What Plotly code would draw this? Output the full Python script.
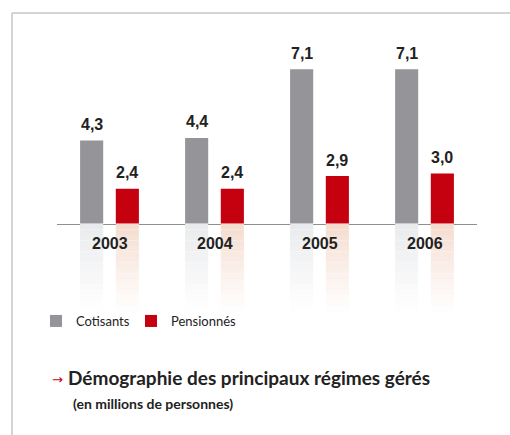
import plotly.graph_objects as go

# ---- data ----
years = ["2003", "2004", "2005", "2006"]
cotisants = [4.3, 4.4, 7.1, 7.1]
pensionnes = [2.4, 2.4, 2.9, 3.0]
series_names = ["Cotisants", "Pensionnés"]
title_text = "Démographie des principaux régimes gérés"
subtitle_text = "(en millions de personnes)"

# ---- layout helpers (window pixel -> paper) ----
W, H = 510, 435
def px(x):
    return x / W
def py(y):
    return 1 - y / H

GRAY = "#959599"
RED = "#c5000f"
GRAY_REFL = (232, 233, 235)
RED_REFL = (244, 218, 204)
TEXT = "#222222"
BOLD_FONT = "Liberation Sans"
NARROW = "Lato"

BAR_W = 0.22
OFF_C = -0.28
OFF_P = 0.06
Y_FLOOR = 1.03          # visual floor of the value axis in the original
Y_TOP = 8.65
N_REFL = 16

xpos = list(range(len(years)))

def fmt(v):
    return f"{v:.1f}".replace(".", ",")

def mix(c, t):
    r, g, b = (round(ci + (255 - ci) * t) for ci in c)
    return f"rgb({r},{g},{b})"

fig = go.Figure()
fig.add_bar(x=xpos, y=cotisants, name=series_names[0], marker_color=GRAY,
            marker_line_width=0, width=BAR_W, offset=OFF_C, hoverinfo="y",
            legendwidth=50)
fig.add_bar(x=xpos, y=pensionnes, name=series_names[1], marker_color=RED,
            marker_line_width=0, width=BAR_W, offset=OFF_P, hoverinfo="y")

# reflections (gradient made of stacked slices)
for k in range(N_REFL):
    t = (k + 0.5) / N_REFL
    for col, off in ((GRAY_REFL, OFF_C), (RED_REFL, OFF_P)):
        fig.add_bar(x=xpos, y=[1] * len(xpos), base=[k] * len(xpos),
                    width=BAR_W, offset=off, marker_color=mix(col, t ** 0.85),
                    marker_line_width=0, yaxis="y2", showlegend=False,
                    hoverinfo="skip")

annotations = []
for i, (c, p) in enumerate(zip(cotisants, pensionnes)):
    for v, off in ((c, OFF_C), (p, OFF_P)):
        annotations.append(dict(x=i + off + BAR_W / 2, y=v, xref="x", yref="y",
                                text=fmt(v), showarrow=False, yanchor="middle",
                                yshift=16,
                                font=dict(family=BOLD_FONT, size=16, color=TEXT,
                                          weight="bold")))
for i, yr in enumerate(years):
    annotations.append(dict(x=i, y=py(243), xref="x", yref="paper", text=yr,
                            showarrow=False, yanchor="middle",
                            font=dict(family=BOLD_FONT, size=16, color=TEXT,
                                      weight="bold")))

annotations += [
    dict(x=px(50), y=py(379), xref="paper", yref="paper", text="→",
         showarrow=False, xanchor="left", yanchor="middle",
         font=dict(family="DejaVu Sans", size=13, color=RED)),
    dict(x=px(66), y=py(377), xref="paper", yref="paper", text=title_text,
         showarrow=False, xanchor="left", yanchor="middle",
         font=dict(family=NARROW, size=19, color=TEXT, weight="bold")),
    dict(x=px(71), y=py(403), xref="paper", yref="paper", text=subtitle_text,
         showarrow=False, xanchor="left", yanchor="middle",
         font=dict(family=NARROW, size=14, color=TEXT, weight="bold")),
]

shapes = [
    dict(type="line", xref="paper", yref="paper", x0=px(12), x1=1,
         y0=py(13), y1=py(13), line=dict(color="#d4d4d4", width=2)),
    dict(type="line", xref="paper", yref="paper", x0=px(12), x1=px(12),
         y0=0, y1=py(13), line=dict(color="#d4d4d4", width=2)),
]

fig.update_layout(
    width=W, height=H, margin=dict(l=0, r=0, t=0, b=0),
    paper_bgcolor="white", plot_bgcolor="white",
    barmode="overlay", separators=",.",
    xaxis=dict(domain=[px(57), px(477)], range=[-0.5, len(years) - 0.5],
               showticklabels=False, ticks="", showgrid=False, zeroline=False,
               showline=True, linecolor="#8f8f8f", linewidth=1,
               anchor="y", fixedrange=True),
    yaxis=dict(domain=[py(223.5), py(30)], range=[Y_FLOOR, Y_TOP],
               visible=False, fixedrange=True),
    yaxis2=dict(domain=[py(312), py(224)], range=[N_REFL, 0],
                visible=False, fixedrange=True),
    showlegend=True,
    legend=dict(orientation="h", x=px(36), y=py(321), xanchor="left",
                yanchor="middle",
                font=dict(family=NARROW, size=13, color=TEXT),
                bgcolor="rgba(0,0,0,0)", itemclick=False, itemdoubleclick=False),
    annotations=annotations, shapes=shapes,
)

fig.write_html(
    "out.html",
    config={"displayModeBar": False},
    post_script="document.body.style.margin='0px';"
                "document.body.style.overflow='hidden';",
)
